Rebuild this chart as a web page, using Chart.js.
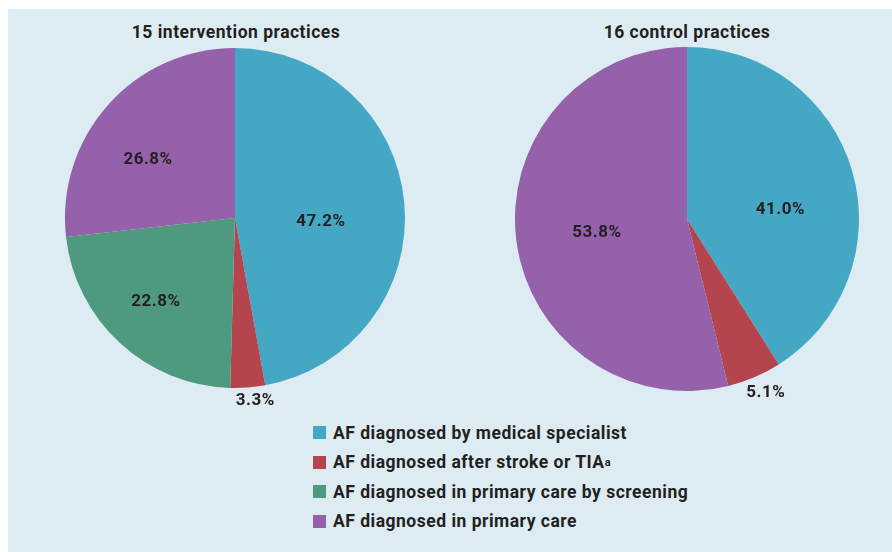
<!DOCTYPE html>
<html>
<head>
<meta charset="utf-8">
<script src="https://cdn.jsdelivr.net/npm/chart.js@4"></script>
<style>
  body{margin:0;background:#fff;width:892px;height:552px;overflow:hidden;font-family:Roboto,"DejaVu Sans",sans-serif;}
  #panel{position:absolute;left:8px;top:9px;width:884px;height:543px;background:#ddebf2;}
  .title{position:absolute;top:22px;font-weight:bold;font-size:17.5px;letter-spacing:0.5px;color:#231f20;text-align:center;width:300px;}
  .box{position:absolute;top:38px;width:400px;height:380px;}
  #legend{position:absolute;left:313px;top:418px;color:#231f20;font-weight:bold;font-size:17.5px;letter-spacing:0.5px;}
  #legend div{height:29.5px;display:flex;align-items:center;}
  #legend span.sw{display:inline-block;width:13px;height:13px;margin-right:7px;}
  sup{font-size:11px;vertical-align:6px;}
</style>
</head>
<body>
<div id="panel"></div>
<div class="title" style="left:86px">15 intervention practices</div>
<div class="title" style="left:537px">16 control practices</div>
<div class="box" style="left:35px"><canvas id="c1" width="400" height="380"></canvas></div>
<div class="box" style="left:487px"><canvas id="c2" width="400" height="380"></canvas></div>
<div id="legend"></div>
<script>
// categories, in drawing order (clockwise from top)
const categories = ['AF diagnosed by medical specialist', 'AF diagnosed after stroke or TIA', 'AF diagnosed in primary care by screening', 'AF diagnosed in primary care'];
const colours = ['#44a8c5', '#b4454f', '#4e9a7e', '#9461aa'];
const intervention = [47.2, 3.3, 22.8, 26.8];
const control = [41.0, 5.1, 0, 53.8];

// percentage labels: distance as fraction of radius + angle nudge (deg); small slices go outside
const labelsPlugin = {
  id: 'pctLabels',
  afterDatasetsDraw(chart, args, opts){
    const ctx = chart.ctx;
    const meta = chart.getDatasetMeta(0);
    ctx.save();
    ctx.font = 'bold 17px Roboto, "DejaVu Sans", sans-serif';
    ctx.letterSpacing = '0.5px';
    ctx.fillStyle = '#231f20';
    ctx.textAlign = 'center';
    ctx.textBaseline = 'middle';
    meta.data.forEach((arc, i) => {
      const v = chart.data.datasets[0].data[i];
      if (!v) return;
      const mid = (arc.startAngle + arc.endAngle) / 2 + (opts.shift[i] || 0) * Math.PI / 180;
      const r = v < 8 ? arc.outerRadius + opts.outside : arc.outerRadius * opts.inside[i];
      ctx.fillText(v.toFixed(1) + '%', arc.x + Math.cos(mid) * r, arc.y + Math.sin(mid) * r);
    });
    ctx.restore();
  }
};

function makePie(id, values, pad, inside, shift, outside){
  new Chart(document.getElementById(id), {
    type: 'pie',
    data: { labels: categories, datasets: [{ data: values, backgroundColor: colours, borderWidth: 0 }] },
    options: {
      responsive: false,
      animation: false,
      layout: { padding: pad },
      plugins: { legend: { display: false }, tooltip: { enabled: false }, pctLabels: { inside, shift, outside } }
    },
    plugins: [labelsPlugin]
  });
}

makePie('c1', intervention, {left:30, right:30, top:10, bottom:30}, [0.506, 0.5, 0.68, 0.615], [7.7, -2, 0.6, -8.1], 14);
makePie('c2', control, {left:28, right:28, top:9, bottom:27}, [0.546, 0.5, 0.55, 0.53], [10.7, -1.3, 0, -1.8], 19);

// legend
const lg = document.getElementById('legend');
categories.forEach((c, i) => {
  const row = document.createElement('div');
  row.innerHTML = `<span class="sw" style="background:${colours[i]}"></span>${c}${i === 1 ? '<sup>a</sup>' : ''}`;
  lg.appendChild(row);
});
</script>
</body>
</html>
